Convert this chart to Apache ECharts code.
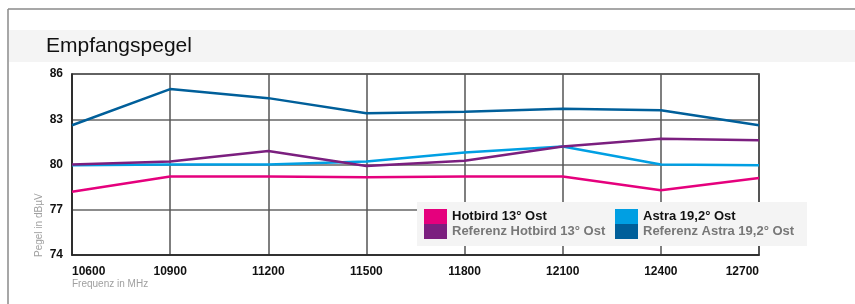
<!DOCTYPE html>
<html>
<head>
<meta charset="utf-8">
<script src="https://cdn.jsdelivr.net/npm/echarts@6/dist/echarts.min.js"></script>
<style>
  html, body { margin: 0; padding: 0; background: #fff; }
  #chart { width: 855px; height: 304px; }
</style>
</head>
<body>
<div id="chart"></div>
<script>
// Frequencies in MHz
const frequencies = ['10600', '10900', '11200', '11500', '11800', '12100', '12400', '12700']

// Receive level in dBµV
const hotbird = [78.2, 79.2, 79.2, 79.15, 79.2, 79.2, 78.3, 79.1]
const refHotbird = [80.0, 80.2, 80.9, 79.9, 80.25, 81.2, 81.7, 81.6]
const astra = [79.95, 80.0, 80.0, 80.2, 80.8, 81.2, 80.0, 79.95]
const refAstra = [82.6, 85.0, 84.4, 83.4, 83.5, 83.7, 83.6, 82.6]

const font = "'Liberation Sans', Arial, sans-serif"

const chart = echarts.init(document.getElementById('chart'))

const makeLine = (name, data, color) => ({
  name,
  type: 'line',
  data,
  symbol: 'none',
  lineStyle: { color, width: 2.5 },
  itemStyle: { color }
})

const option = {
  animation: false,
  textStyle: { fontFamily: font },
  grid: {
    left: 72,
    right: 96,
    top: 74,
    bottom: 49,
    show: true,
    backgroundColor: 'transparent',
    borderColor: '#222',
    borderWidth: 1.5
  },
  xAxis: {
    type: 'category',
    data: frequencies,
    boundaryGap: false,
    axisLine: { lineStyle: { color: '#222', width: 1.5 } },
    axisTick: { show: false },
    splitLine: { show: true, lineStyle: { color: '#555', width: 1.5 } },
    axisLabel: {
      color: '#111',
      fontWeight: 'bold',
      fontSize: 12,
      margin: 11,
      alignMinLabel: 'left',
      alignMaxLabel: 'right'
    }
  },
  yAxis: {
    type: 'value',
    min: 74,
    max: 86,
    interval: 3,
    axisLine: { show: true, lineStyle: { color: '#222', width: 1.5 } },
    axisTick: { show: false },
    splitLine: { lineStyle: { color: '#666', width: 1.5 } },
    axisLabel: {
      color: '#111',
      fontWeight: 'bold',
      fontSize: 12,
      margin: 9
    }
  },
  legend: [
    {
      left: 424,
      top: 209,
      orient: 'vertical',
      padding: 0,
      itemGap: 0,
      itemWidth: 23,
      itemHeight: 15,
      icon: 'rect',
      selectedMode: false,
      textStyle: { fontSize: 13, fontWeight: 'bold', fontFamily: font },
      data: [
        { name: 'Hotbird 13° Ost', textStyle: { color: '#111' } },
        { name: 'Referenz Hotbird 13° Ost', textStyle: { color: '#777' } }
      ]
    },
    {
      left: 615,
      top: 209,
      orient: 'vertical',
      padding: 0,
      itemGap: 0,
      itemWidth: 23,
      itemHeight: 15,
      icon: 'rect',
      selectedMode: false,
      textStyle: { fontSize: 13, fontWeight: 'bold', fontFamily: font },
      data: [
        { name: 'Astra 19,2° Ost', textStyle: { color: '#111' } },
        { name: 'Referenz Astra 19,2° Ost', textStyle: { color: '#777' } }
      ]
    }
  ],
  graphic: [
    // outer frame
    { type: 'line', shape: { x1: 8, y1: 9, x2: 855, y2: 9 }, style: { stroke: '#8a8a8a', lineWidth: 1.5 } },
    { type: 'line', shape: { x1: 8, y1: 9, x2: 8, y2: 304 }, style: { stroke: '#8a8a8a', lineWidth: 1.5 } },
    // title band
    { type: 'rect', shape: { x: 9, y: 30, width: 846, height: 32 }, style: { fill: '#f4f4f4' } },
    {
      type: 'text', left: 46, top: 36,
      style: { text: 'Empfangspegel', fill: '#111', font: '21px ' + font }
    },
    // legend background
    { type: 'rect', z: 3, shape: { x: 417, y: 202, width: 390, height: 44 }, style: { fill: '#f4f4f4' } },
    // axis names
    {
      type: 'text', x: 72, y: 279,
      style: { text: 'Frequenz in MHz', fill: '#a0a0a0', font: '10px ' + font }
    },
    {
      type: 'text', x: 34, y: 257, rotation: Math.PI / 2,
      style: { text: 'Pegel in dBµV', fill: '#a0a0a0', font: '10px ' + font, verticalAlign: 'top' }
    }
  ],
  series: [
    makeLine('Referenz Astra 19,2° Ost', refAstra, '#005f9a'),
    makeLine('Astra 19,2° Ost', astra, '#009fe3'),
    makeLine('Referenz Hotbird 13° Ost', refHotbird, '#7b1f7f'),
    makeLine('Hotbird 13° Ost', hotbird, '#e5007d')
  ]
}

chart.setOption(option)
</script>
</body>
</html>
